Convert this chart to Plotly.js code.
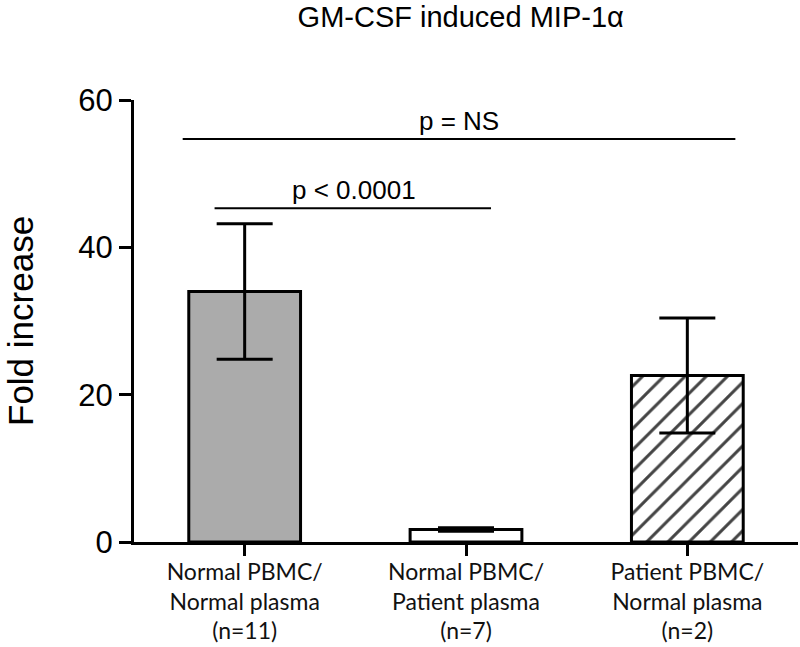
<!DOCTYPE html>
<html>
<head>
<meta charset="utf-8">
<script src="https://cdn.plot.ly/plotly-3.0.1.min.js"></script>
<style>html,body{margin:0;padding:0;background:#fff;}#chart{width:800px;height:647px;}</style>
</head>
<body>
<div id="chart"></div>
<script>
// ---- data ----
const categories = [
  "Normal PBMC/<br>Normal plasma<br>(n=11)",
  "Normal PBMC/<br>Patient plasma<br>(n=7)",
  "Patient PBMC/<br>Normal plasma<br>(n=2)"
];
const means = [34.0, 1.7, 22.6];
const errors = [9.2, 0.25, 7.8];
const fillColors = ["#ababab", "#ffffff", "#ffffff"];
const patternShapes = ["", "", "/"];
const yTicks = [0, 20, 40, 60];
const yTitle = "Fold increase";

// significance brackets (category index positions, value)
const sigLabels = ["p = NS", "p < 0.0001"];
const sigX0 = [-0.28, -0.136];
const sigX1 = [2.217, 1.113];
const sigLineY = [54.7, 45.3];
const sigTextX = [0.968, 0.493];
const sigTextY = [57.2, 47.85];

const trace = {
  type: "bar",
  x: categories,
  y: means,
  width: 0.505,
  marker: {
    color: fillColors,
    line: {color: "#000", width: 3},
    pattern: {shape: patternShapes, fgcolor: "#000", bgcolor: "#fff", fgopacity: 1, size: 15, solidity: 0.2, fillmode: "overlay"}
  },
  error_y: {type: "data", array: errors, visible: true, color: "#000", thickness: 3, width: 28},
  hoverinfo: "skip"
};

const shapes = sigLabels.map((_, i) => ({
  type: "line", xref: "x", yref: "y",
  x0: sigX0[i], x1: sigX1[i], y0: sigLineY[i], y1: sigLineY[i],
  line: {color: "#000", width: 2}
}));

const annotations = sigLabels.map((t, i) => ({
  text: t, xref: "x", yref: "y", x: sigTextX[i], y: sigTextY[i],
  xanchor: "center", yanchor: "middle", showarrow: false,
  font: {family: "Liberation Sans, Arial, sans-serif", size: 26, color: "#000"}
}));
annotations.push({
  text: yTitle, xref: "paper", yref: "paper", x: 0, y: 0.5,
  xanchor: "center", yanchor: "middle", xshift: -114, textangle: -90, showarrow: false,
  font: {family: "Liberation Sans, Arial, sans-serif", size: 35, color: "#000"}
});

const layout = {
  width: 800, height: 647,
  margin: {l: 134, r: 2, t: 100, b: 105},
  paper_bgcolor: "#fff", plot_bgcolor: "#fff",
  showlegend: false,
  title: {
    text: "GM-CSF induced MIP-1α",
    font: {family: "Liberation Sans, Arial, sans-serif", size: 29, color: "#000"},
    x: 0.492, xanchor: "center", xref: "paper",
    y: 1, yanchor: "top", yref: "container", pad: {t: 7}
  },
  xaxis: {
    type: "category",
    range: [-0.5, 2.5],
    showline: true, linecolor: "#000", linewidth: 3,
    ticks: "outside", ticklen: 11, tickwidth: 3, tickcolor: "#000",
    ticklabelstandoff: -4,
    showgrid: false, zeroline: false,
    tickfont: {family: "Lato, sans-serif", size: 23, color: "#111"},
    fixedrange: true
  },
  yaxis: {
    range: [0, 60],
    tickvals: yTicks,
    showline: true, linecolor: "#000", linewidth: 3,
    ticks: "outside", ticklen: 12, tickwidth: 3, tickcolor: "#000",
    showgrid: false, zeroline: false,
    tickfont: {family: "Liberation Sans, Arial, sans-serif", size: 31, color: "#000"},
    fixedrange: true
  },
  shapes: shapes,
  annotations: annotations,
  bargap: 0.49
};

Plotly.newPlot("chart", [trace], layout, {displayModeBar: false, staticPlot: true});
</script>
</body>
</html>
